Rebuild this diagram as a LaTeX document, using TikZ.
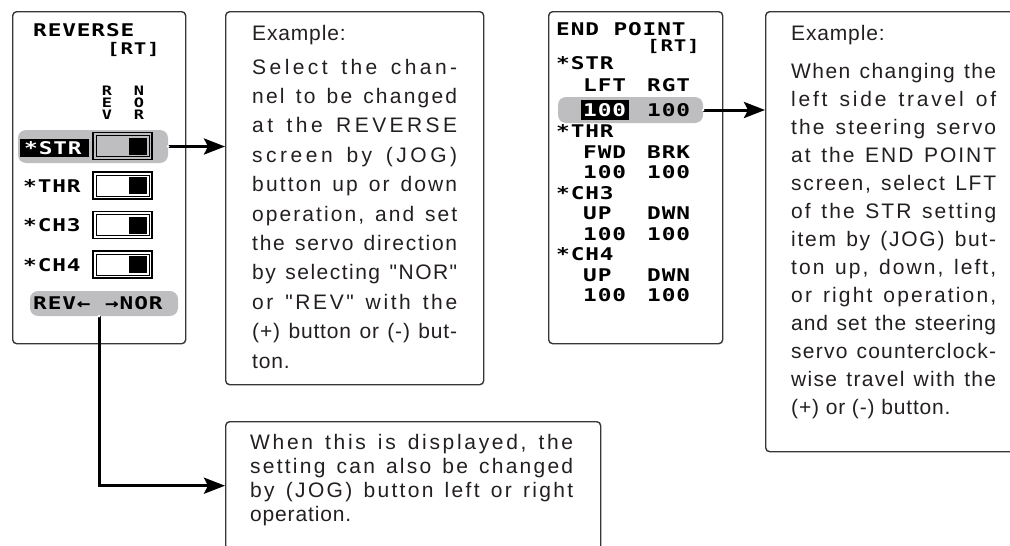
\documentclass[tikz,border=0pt]{standalone}
\usepackage{fontspec}
\setmainfont{Liberation Sans}
\newfontfamily\txtf{Liberation Sans}[LetterSpace=4]
\newfontfamily\lcdf{DejaVu Sans Mono}[FakeStretch=1.3,LetterSpace=5]
\usetikzlibrary{arrows.meta}
\definecolor{ink}{RGB}{35,31,32}
\definecolor{framec}{RGB}{55,55,55}
\definecolor{bandc}{RGB}{190,190,192}
\ExplSyntaxOn
\seq_new:N \l__rs_words_seq
\tl_new:N \l__rs_out_tl
\tl_new:N \l__rs_in_tl
\cs_generate_variant:Nn \seq_set_split:Nnn { NnV }
\NewDocumentCommand \spreadto { m m }
  {
    \tl_set:Nx \l__rs_in_tl {#2}
    \seq_set_split:NnV \l__rs_words_seq { ~ } \l__rs_in_tl
    \tl_clear:N \l__rs_out_tl
    \seq_map_indexed_inline:Nn \l__rs_words_seq
      {
        \int_compare:nT { ##1 > 1 }
          { \tl_put_right:Nn \l__rs_out_tl { \c_space_tl \hfil } }
        \tl_map_inline:nn {##2}
          { \tl_put_right:Nn \l__rs_out_tl { ####1 \hfil } }
      }
    \hbox to #1 { \l__rs_out_tl \unskip }
  }
\ExplSyntaxOff
\tikzset{
  boxframe/.style={draw=framec, line width=1.4pt, rounded corners=4pt, inner sep=0pt, anchor=north west},
  lcd/.style={font=\lcdf\bfseries\fontsize{17.5}{17.5}\selectfont, inner sep=0pt, anchor=base west, text=black},
  lcdrt/.style={font=\lcdf\bfseries\fontsize{16}{16}\selectfont, inner sep=0pt, anchor=base west, text=black},
  lcds/.style={font=\lcdf\bfseries\fontsize{13}{13}\selectfont, inner sep=0pt, anchor=base, text=black},
  body/.style={font=\txtf\fontsize{21}{21}\selectfont, inner sep=0pt, anchor=base west, text=ink},
  band/.style={fill=bandc, rounded corners=8pt, inner sep=0pt},
  conn/.style={line width=3pt, draw=black, -{Stealth[length=21pt,width=16pt,inset=4pt]}},
  togglepic/.pic={
    \draw[line width=1.4pt] (-29.5,-13.5) rectangle (29.5,13.5);
    \draw[line width=0.8pt] (-26.5,-10.5) rectangle (26.5,10.5);
    \fill[black] (6,-8.5) rectangle (24.5,8.5);
  }
}
\begin{document}
\begin{tikzpicture}[x=1pt,y=-1pt]
\path[use as bounding box] (0,0) rectangle (1010,546);
\clip (0,0) rectangle (1010,546);

% ---------- left LCD (REVERSE) ----------
\node[boxframe, minimum width=173pt, minimum height=332pt] (lcd1) at (12,11) {};
\node[lcd] (rev) at (33,36) {REVERSE};
\node[lcdrt] (rt1) at (107,54.5) {[RT]};
\node[lcds] (vr1) at (107,95) {R};
\node[lcds] (vr2) at (107,107) {E};
\node[lcds] (vr3) at (107,119) {V};
\node[lcds] (vn1) at (139,95) {N};
\node[lcds] (vn2) at (139,107) {O};
\node[lcds] (vn3) at (139,119) {R};

\node[band, minimum width=150pt, minimum height=33pt] (band1) at (93,146.5) {};
\node[fill=black, inner sep=0pt, minimum width=69pt, minimum height=18pt] (strbox) at (54.5,148) {};
\node[lcd, text=white] (str) at (24,154.5) {*STR};
\pic at (122.5,146) {togglepic};
\node[lcd] (thr) at (23,192) {*THR};
\pic at (122.5,185.5) {togglepic};
\node[lcd] (ch3) at (23,231.5) {*CH3};
\pic at (122.5,225) {togglepic};
\node[lcd] (ch4) at (23,271) {*CH4};
\pic at (122.5,264.5) {togglepic};

\node[band, minimum width=148pt, minimum height=25pt] (band2) at (104,303.5) {};
\node[lcd] (revnor) at (33,309.5) {REV← →NOR};

% ---------- END POINT LCD ----------
\node[boxframe, minimum width=174pt, minimum height=332pt] (lcd2) at (548,11) {};
\node[lcd] (ep) at (556,35) {END POINT};
\node[lcdrt] (rt2) at (647,51) {[RT]};
\node[lcd] (s1) at (556,69) {*STR};
\node[lcd] (s2) at (583,91) {LFT};
\node[lcd] (s3) at (647,91) {RGT};
\node[band, minimum width=145pt, minimum height=26pt] (band3) at (630.5,110) {};
\node[fill=black, inner sep=0pt, minimum width=48pt, minimum height=20pt] (hl) at (604.5,109.5) {};
\node[lcd, text=white] (s4) at (583,116) {100};
\node[lcd] (s5) at (647,116) {100};
\node[lcd] (t1) at (556,137) {*THR};
\node[lcd] (t2) at (583,158) {FWD};
\node[lcd] (t3) at (647,158) {BRK};
\node[lcd] (t4) at (583,178) {100};
\node[lcd] (t5) at (647,178) {100};
\node[lcd] (c1) at (556,199) {*CH3};
\node[lcd] (c2) at (583,219) {UP};
\node[lcd] (c3) at (647,219) {DWN};
\node[lcd] (c4) at (583,240) {100};
\node[lcd] (c5) at (647,240) {100};
\node[lcd] (d1) at (556,260) {*CH4};
\node[lcd] (d2) at (583,281) {UP};
\node[lcd] (d3) at (647,281) {DWN};
\node[lcd] (d4) at (583,301) {100};
\node[lcd] (d5) at (647,301) {100};

% ---------- example box 1 ----------
\node[boxframe, minimum width=258pt, minimum height=373pt] (ex1) at (225,11) {};
\node[body] (ex1h) at (252,40) {Example:};
\foreach \t [count=\i] in {{Select the chan-},{nel to be changed},{at the REVERSE},{screen by (JOG)},{button up or down},{operation, and set},{the servo direction},{by selecting "NOR"},{or "REV" with the},{(+) button or (-) but-}}
  \node[body] (a\i) at (252,{74+29.4*(\i-1)}) {\spreadto{205pt}{\t}};
\node[body] (a11) at (252,368) {ton.};

% ---------- example box 2 ----------
\node[boxframe, minimum width=260pt, minimum height=440pt] (ex2) at (765,11) {};
\node[body] (ex2h) at (791,40) {Example:};
\foreach \t [count=\i] in {{When changing the},{left side travel of},{the steering servo},{at the END POINT},{screen, select LFT},{of the STR setting},{item by (JOG) but-},{ton up, down, left,},{or right operation,},{and set the steering},{servo counterclock-},{wise travel with the}}
  \node[body] (b\i) at (791,{78+28*(\i-1)}) {\spreadto{205pt}{\t}};
\node[body] (b13) at (791,414) {(+) or (-) button.};

% ---------- bottom box ----------
\node[boxframe, minimum width=375pt, minimum height=128pt] (ex3) at (225,421) {};
\foreach \t [count=\i] in {{When this is displayed, the},{setting can also be changed},{by (JOG) button left or right}}
  \node[body] (e\i) at (250,{449+24*(\i-1)}) {\spreadto{323pt}{\t}};
\node[body] (e4) at (250,521) {operation.};

% ---------- connectors ----------
\draw[conn] (band1.east) -- (band1.east -| ex1.west);
\draw[conn] ([xshift=-5pt]band2.south) |- (ex3.west);
\draw[conn] (band3.east) -- (band3.east -| ex2.west);
\fill[white] (band1.east) circle (1.5pt);
\fill[white] (band3.east) circle (1.5pt);
\fill[white] ([xshift=-5pt]band2.south) circle (1.5pt);
\end{tikzpicture}
\end{document}
